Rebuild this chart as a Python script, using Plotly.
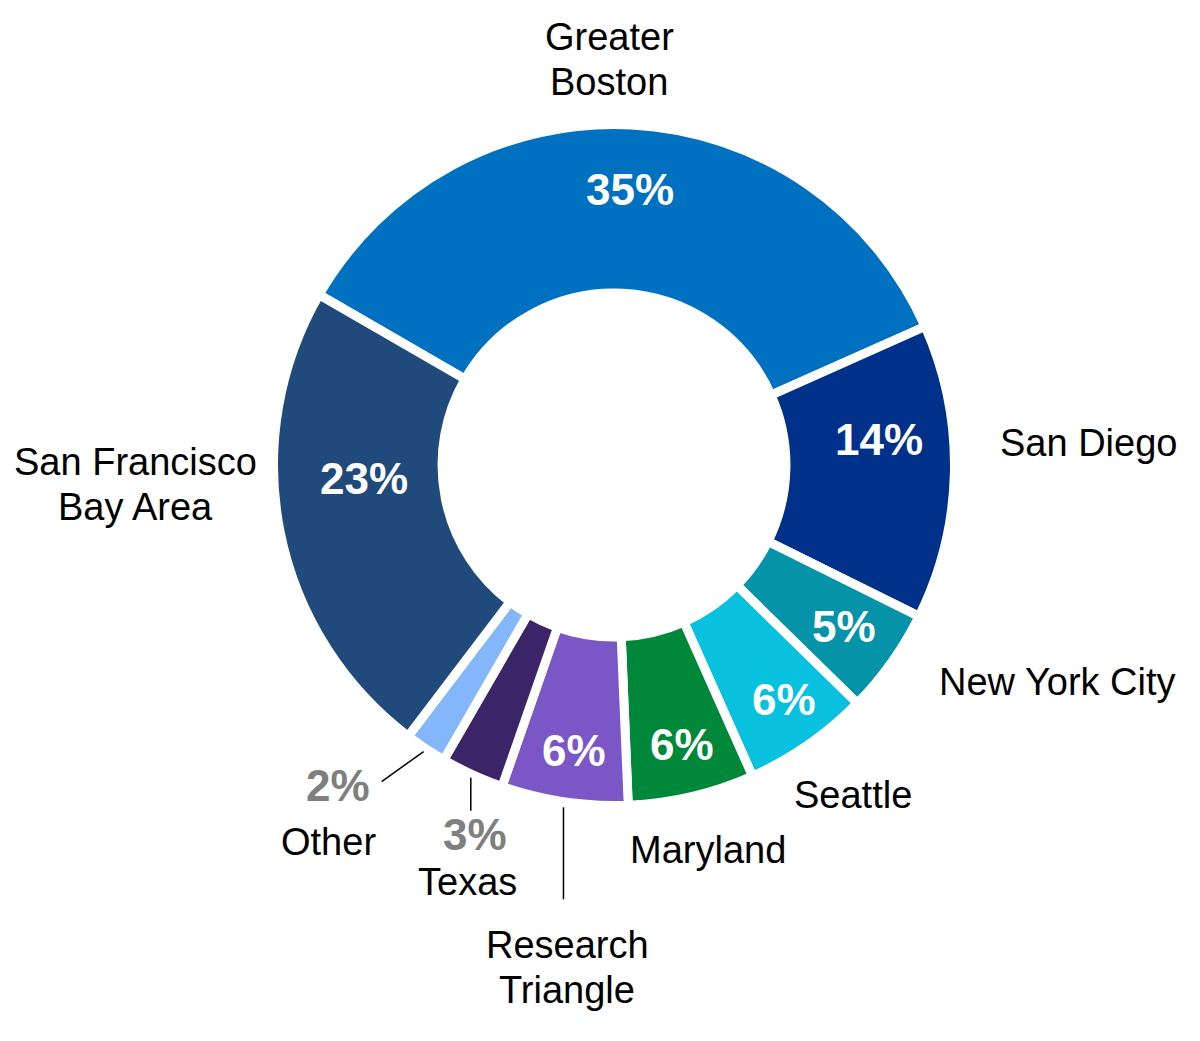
import math
import plotly.graph_objects as go

# ---------------- data ----------------
regions = ["Greater Boston", "San Diego", "New York City", "Seattle", "Maryland",
           "Research Triangle", "Texas", "Other", "San Francisco Bay Area"]
label_lines = [["Greater", "Boston"], ["San Diego"], ["New York City"], ["Seattle"],
               ["Maryland"], ["Research", "Triangle"], ["Texas"], ["Other"],
               ["San Francisco", "Bay Area"]]
shares = [35, 14, 5, 6, 6, 6, 3, 2, 23]

# ---------------- style / layout ----------------
colors = ["#0070C0", "#00318A", "#0493A8", "#08C1DF", "#00883A",
          "#7A56C6", "#3C2468", "#84B6FB", "#204A7C"]
W, H = 1200, 1041
CX, CY, R = 606, 457, 340.5        # pie centre / radius in px (page has 8px body margin)
START = -60                         # first slice starts at 10 o'clock
FONT = "Liberation Sans, Arial, sans-serif"
LINE_H = 45

# inside label: (angle nudge from slice mid, radius px), None = outside
inside_pos = [(0.3, 276), (-6.6, 266), (-0.4, 281), (-1.2, 290), (-0.5, 288),
              (-0.4, 288), None, None, (8.2, 250)]
# category label: (angle nudge from slice mid, radius px)
name_pos = [(-3.7, 405.5), (-3.9, 475.5), (-9.35, 494.2), (-1.1, 407.5), (-0.5, 396.3),
            (-3.1, 504.7), (-5.3, 441.8), (3.5, 472.6), (9.06, 478.4)]
# outside percent label for small slices
outside_pct_pos = {6: (-4.0, 394.3), 7: (7.1, 423.3)}
# leader lines: (start radius, end dx, end dy) relative to start point
leaders = {7: (344, -42, 30), 6: (344, 0, 33), 5: (346, 0, 92)}

# ---------------- geometry helpers ----------------
total = sum(shares)
mids = []
acc = START
for v in shares:
    span = 360.0 * v / total
    mids.append(acc + span / 2)
    acc += span


def polar_px(theta, r):
    t = math.radians(theta)
    return CX + r * math.sin(t), CY - r * math.cos(t)


def to_paper(px, py):
    return px / W, 1 - py / H


fig = go.Figure(go.Pie(
    labels=regions, values=shares, sort=False, direction="clockwise",
    rotation=START, hole=0.505, textinfo="none", hoverinfo="label+percent",
    marker=dict(colors=colors, line=dict(color="white", width=9)),
    domain=dict(x=[(CX - R) / W, (CX + R) / W],
                y=[1 - (CY + R) / H, 1 - (CY - R) / H]),
    showlegend=False,
))

annotations = []
shapes = []
for i, v in enumerate(shares):
    pct = f"{v}%"
    if inside_pos[i] is not None:
        dth, r = inside_pos[i]
        x, y = to_paper(*polar_px(mids[i] + dth, r))
        annotations.append(dict(x=x, y=y, xref="paper", yref="paper", text=f"<b>{pct}</b>",
                                showarrow=False, font=dict(family=FONT, size=44, color="white"),
                                xanchor="center", yanchor="middle"))
    if i in outside_pct_pos:
        dth, r = outside_pct_pos[i]
        x, y = to_paper(*polar_px(mids[i] + dth, r))
        annotations.append(dict(x=x, y=y, xref="paper", yref="paper", text=f"<b>{pct}</b>",
                                showarrow=False, font=dict(family=FONT, size=44, color="#7F7F7F"),
                                xanchor="center", yanchor="middle"))
    dth, r = name_pos[i]
    bx, by = polar_px(mids[i] + dth, r)
    lines = label_lines[i]
    n = len(lines)
    for k, ln in enumerate(lines):
        ly = by + (k - (n - 1) / 2) * LINE_H
        x, y = to_paper(bx, ly)
        annotations.append(dict(x=x, y=y, xref="paper", yref="paper", text=ln,
                                showarrow=False, font=dict(family=FONT, size=38, color="black"),
                                xanchor="center", yanchor="middle"))
    if i in leaders:
        r0, ddx, ddy = leaders[i]
        sx, sy = polar_px(mids[i], r0)
        x0, y0 = to_paper(sx, sy)
        x1, y1 = to_paper(sx + ddx, sy + ddy)
        shapes.append(dict(type="line", xref="paper", yref="paper", x0=x0, y0=y0, x1=x1, y1=y1,
                           line=dict(color="black", width=1.5)))

fig.update_layout(
    width=W, height=H, margin=dict(l=0, r=0, t=0, b=0),
    paper_bgcolor="white", plot_bgcolor="white",
    annotations=annotations, shapes=shapes,
)

fig.write_html("out.html")
